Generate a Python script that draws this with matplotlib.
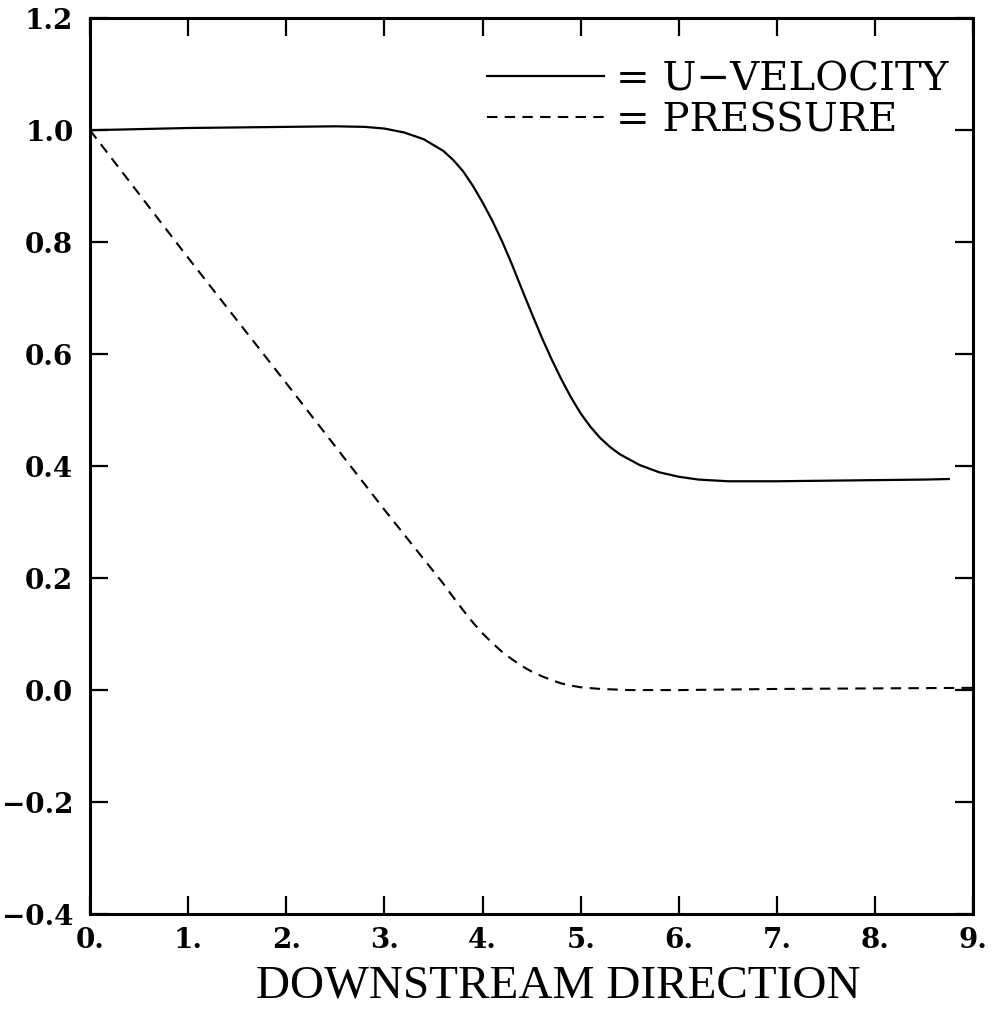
import matplotlib
matplotlib.use("Agg")
import matplotlib.pyplot as plt
import numpy as np

# values
x_vel = [0.0, 0.5, 1.0, 1.5, 2.0, 2.5, 2.8, 3.0, 3.2, 3.4, 3.6, 3.7, 3.8, 3.9,
         4.0, 4.1, 4.2, 4.3, 4.4, 4.5, 4.6, 4.7, 4.8, 4.9, 5.0, 5.1, 5.2, 5.3,
         5.4, 5.6, 5.8, 6.0, 6.2, 6.5, 7.0, 7.5, 8.0, 8.5, 8.75]
u_vel = [1.0, 1.002, 1.004, 1.005, 1.006, 1.007, 1.006, 1.003, 0.996, 0.984,
         0.963, 0.947, 0.927, 0.901, 0.871, 0.838, 0.801, 0.760, 0.716, 0.673,
         0.631, 0.592, 0.556, 0.523, 0.494, 0.470, 0.450, 0.434, 0.421, 0.402,
         0.389, 0.381, 0.376, 0.373, 0.373, 0.374, 0.375, 0.376, 0.377]

x_pre = [0.0, 0.5, 1.0, 1.5, 2.0, 2.5, 3.0, 3.35, 3.6, 3.7, 3.8, 3.9, 4.0,
         4.1, 4.2, 4.3, 4.4, 4.5, 4.6, 4.7, 4.8, 4.9, 5.0, 5.2, 5.5, 6.0, 7.0,
         8.0, 9.0]
pres = [1.0, 0.886, 0.772, 0.660, 0.548, 0.435, 0.322, 0.245, 0.190, 0.166,
        0.143, 0.121, 0.101, 0.084, 0.068, 0.055, 0.043, 0.033, 0.025, 0.018,
        0.012, 0.008, 0.005, 0.002, 0.0, 0.0, 0.002, 0.003, 0.004]

xticks = [0, 1, 2, 3, 4, 5, 6, 7, 8, 9]
xtick_labels = ["0.", "1.", "2.", "3.", "4.", "5.", "6.", "7.", "8.", "9."]
yticks = [-0.4, -0.2, 0.0, 0.2, 0.4, 0.6, 0.8, 1.0, 1.2]
ytick_labels = ["\u22120.4", "\u22120.2", "0.0", "0.2", "0.4", "0.6", "0.8", "1.0", "1.2"]

fig = plt.figure(figsize=(10.06, 10.15), dpi=100)
ax = fig.add_axes([0.0895, 0.0995, 0.878, 0.8825])

ax.plot(x_vel, u_vel, '-', color='black', lw=1.6, label='= U\u2212VELOCITY')
ax.plot(x_pre, pres, '--', color='black', lw=1.5, dashes=(5, 3.5), label='= PRESSURE')

ax.set_xlim(0, 9)
ax.set_ylim(-0.4, 1.2)

ax.set_xticks(xticks)
ax.set_xticklabels(xtick_labels, family='DejaVu Serif', fontsize=20, weight='bold')
ax.set_yticks(yticks)
ax.set_yticklabels(ytick_labels, family='DejaVu Serif', fontsize=20, weight='bold')
ax.tick_params(direction='in', length=13, width=1.6, top=True, right=True)
ax.tick_params(axis='y', pad=12)
ax.tick_params(axis='x', pad=9)

for s in ax.spines.values():
    s.set_linewidth(2.2)

ax.set_xlabel('DOWNSTREAM DIRECTION', family='Liberation Serif', fontsize=34, labelpad=8)
ax.xaxis.label.set_x(0.53)

leg = ax.legend(loc='upper right', frameon=False, prop={'family': 'DejaVu Serif', 'size': 29},
                handlelength=2.9, handletextpad=0.3, labelspacing=0.1,
                borderaxespad=0.0, bbox_to_anchor=(0.99, 0.97))

fig.savefig('out.png', dpi=100)
